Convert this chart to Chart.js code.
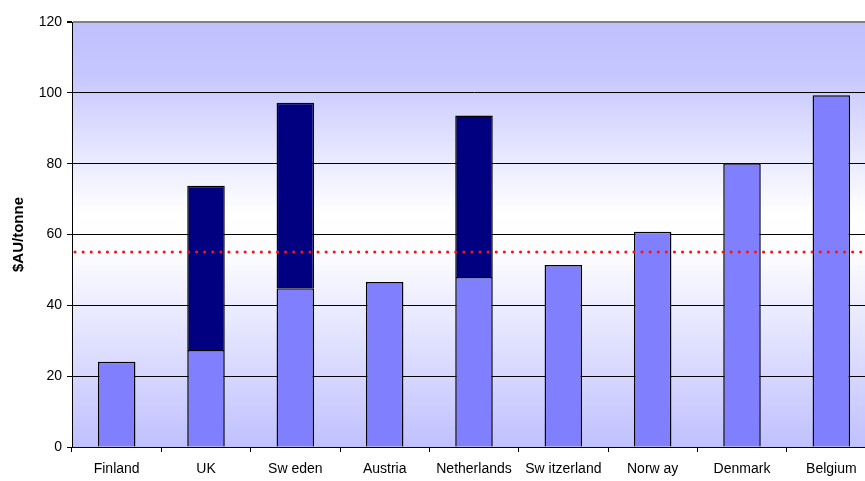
<!DOCTYPE html>
<html>
<head>
<meta charset="utf-8">
<script src="https://cdn.jsdelivr.net/npm/chart.js@4"></script>
<style>
  html, body { margin: 0; padding: 0; background: #fff; overflow: hidden; }
  #wrap { width: 876px; height: 481px; }
</style>
</head>
<body>
<div id="wrap"><canvas id="out" width="876" height="481"></canvas></div>
<script>
const countries = ["Finland", "UK", "Sw eden", "Austria", "Netherlands", "Sw itzerland", "Norw ay", "Denmark", "Belgium"];
const baseValues = [24.1, 27.4, 44.8, 46.6, 48.0, 51.4, 60.8, 80.1, 99.3];
const extraValues = [0, 46.4, 52.4, 0, 45.6, 0, 0, 0, 0];
const referenceLevel = 55;
const yTicks = [0, 20, 40, 60, 80, 100, 120];

const plotBackground = {
    id: "plotBackground",
    beforeDraw(chart) {
        const { ctx, chartArea: a } = chart;
        const g = ctx.createLinearGradient(0, a.top, 0, a.bottom);
        g.addColorStop(0, "#C0C0FF");
        g.addColorStop(0.12, "#C6C6FF");
        g.addColorStop(0.45, "#FFFFFF");
        g.addColorStop(0.55, "#FCFCFF");
        g.addColorStop(1, "#C0C0FF");
        ctx.save();
        ctx.fillStyle = g;
        ctx.fillRect(a.left, a.top, a.right - a.left, a.bottom - a.top);
        ctx.restore();
    }
};

// dotted red reference line across the whole plot
const referenceLine = {
    id: "referenceLine",
    afterDatasetsDraw(chart) {
        const { ctx, chartArea: a, scales } = chart;
        const y = Math.round(scales.y.getPixelForValue(referenceLevel));
        ctx.save();
        ctx.strokeStyle = "#FF1010";
        ctx.lineWidth = 3;
        ctx.lineCap = "round";
        ctx.setLineDash([0.1, 8]);
        ctx.beginPath();
        ctx.moveTo(a.left + 3, y);
        ctx.lineTo(a.right, y);
        ctx.stroke();
        ctx.restore();
    }
};

const canvasCtx = document.getElementById("out").getContext("2d");
Chart.defaults.font.family = "'Liberation Sans', Arial, sans-serif";
Chart.defaults.color = "#000";

new Chart(canvasCtx, {
    type: "bar",
    data: {
        labels: countries,
        datasets: [
            {
                label: "base",
                data: baseValues,
                backgroundColor: "#8080FF",
                borderColor: "#000",
                borderWidth: 1.5
            },
            {
                label: "extra",
                data: extraValues,
                backgroundColor: "#000080",
                borderColor: "#000",
                borderWidth: 1.5
            }
        ]
    },
    options: {
        responsive: false,
        animation: false,
        barPercentage: 0.42,
        categoryPercentage: 1,
        layout: { padding: { top: 22, right: 0, bottom: 0, left: 0 } },
        plugins: {
            legend: { display: false },
            tooltip: { enabled: false }
        },
        scales: {
            x: {
                stacked: true,
                afterFit: s => { s.height = 34; },
                border: { color: "#000", width: 1 },
                grid: {
                    offset: true,
                    drawOnChartArea: false,
                    drawTicks: true,
                    tickLength: 5,
                    color: "#000"
                },
                ticks: { font: { size: 14 }, padding: 9, maxRotation: 0, autoSkip: false }
            },
            y: {
                stacked: true,
                min: 0,
                max: 120,
                afterFit: s => { s.width = 72; },
                afterBuildTicks: s => { s.ticks = yTicks.map(v => ({ value: v })); },
                border: { color: "#000", width: 1 },
                grid: {
                    color: c => (c.tick.value === 120 ? "#808080" : "#000"),
                    lineWidth: c => (c.tick.value === 120 ? 2 : 1),
                    tickColor: "#000",
                    tickLength: 5
                },
                ticks: { font: { size: 14 }, padding: 5 },
                title: {
                    display: true,
                    text: "$AU/tonne",
                    font: { size: 15, weight: "bold" },
                    padding: { top: 10, bottom: 0 }
                }
            }
        }
    },
    plugins: [plotBackground, referenceLine]
});
</script>
</body>
</html>
